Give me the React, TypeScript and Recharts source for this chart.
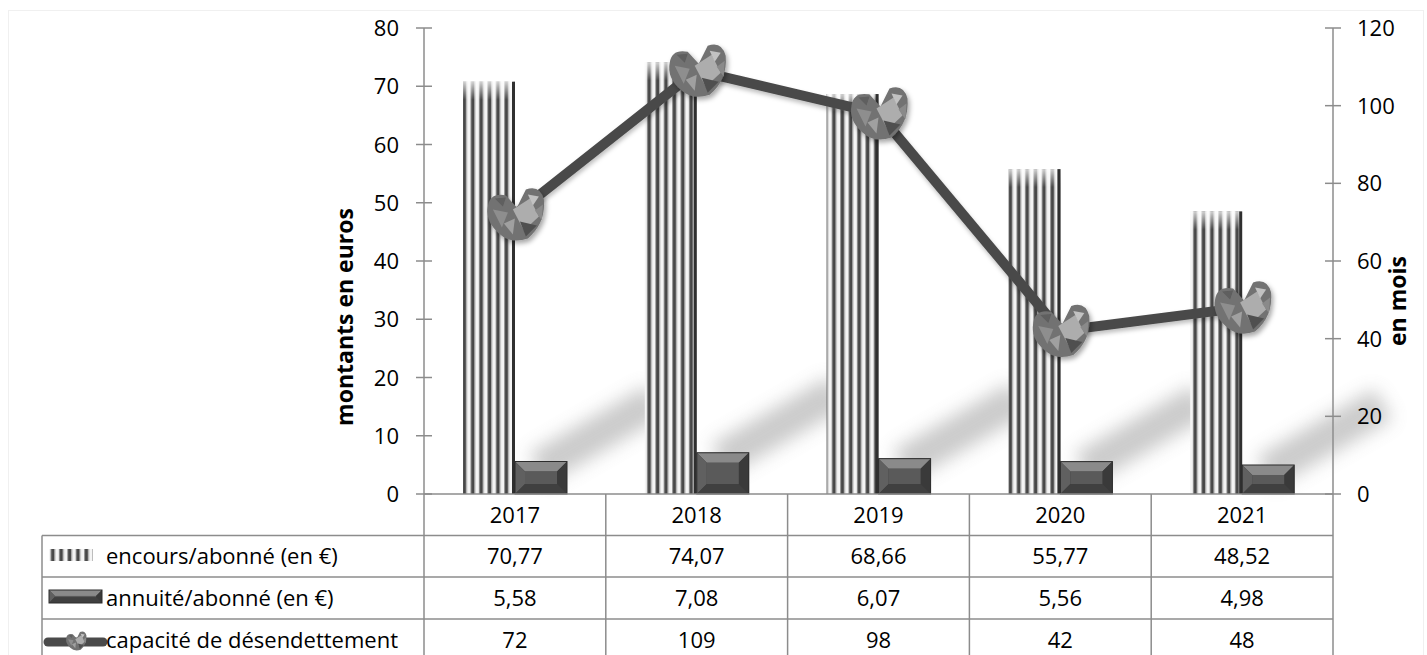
import React from 'react';
import { ComposedChart, Bar, Line, XAxis, YAxis } from 'recharts';

const years = ['2017', '2018', '2019', '2020', '2021'];
const encours = [70.77, 74.07, 68.66, 55.77, 48.52];
const annuite = [5.58, 7.08, 6.07, 5.56, 4.98];
const capacite = [72, 109, 98, 42, 48];
const leftTicks = [0, 10, 20, 30, 40, 50, 60, 70, 80];
const rightTicks = [0, 20, 40, 60, 80, 100, 120];
const seriesNames = ['encours/abonné (en €)', 'annuité/abonné (en €)', 'capacité de désendettement'];

// French decimal comma for the table cells
const fmt = (v: number) => v.toFixed(2).replace('.', ',');

const data = years.map((year, i) => ({
  year,
  encours: encours[i],
  annuite: annuite[i],
  capacite: capacite[i],
}));

const W = 1427;
const H = 655;
const PLOT_L = 424;
const PLOT_R = 1333;
const PLOT_T = 28;
const PLOT_B = 494;
const COL_W = (PLOT_R - PLOT_L) / years.length;
const TABLE_L = 42;
const ROWS = [494, 535.5, 577, 619, 661];
const FONT = '"Open Sans", Lato, sans-serif';
const FS = 22;
const GRID = '#8c8c8c';

const LeftTick = (props: any) => {
  const { y, payload } = props;
  return (
    <g>
      <line x1={PLOT_L - 8} x2={PLOT_L + 8} y1={y} y2={y} stroke={GRID} strokeWidth={1.5} />
      <text x={399} y={y} dy={8} textAnchor="end" fontSize={FS} fontFamily={FONT} fill="#000">
        {payload.value}
      </text>
    </g>
  );
};

const RightTick = (props: any) => {
  const { y, payload } = props;
  return (
    <g>
      <line x1={PLOT_R - 8} x2={PLOT_R + 8} y1={y} y2={y} stroke={GRID} strokeWidth={1.5} />
      <text x={1357} y={y} dy={8} textAnchor="start" fontSize={FS} fontFamily={FONT} fill="#000">
        {payload.value}
      </text>
    </g>
  );
};

// striped bar, also paints the soft shadow of the neighbouring annuity bar
const EncoursShape = (props: any) => {
  const { x, y, width, height, index } = props;
  if (!height) return null;
  const aH = (height * annuite[index]) / encours[index];
  const ax = x + width;
  const ay = y + height - aH;
  return (
    <g>
      <polygon
        points={`${ax + 14},${ay - 8} ${ax + 32},${ay + 22} ${ax + 150},${ay - 46} ${ax + 132},${ay - 76}`}
        fill="#8c8c8c"
        opacity={0.45}
        filter="url(#softBlur)"
      />
      <rect x={x} y={y} width={width} height={height} fill="url(#stripes)" />
      <rect x={x} y={y} width={width} height={18} fill="url(#topFade)" />
      <rect x={x + width - 3} y={y} width={3} height={height} fill="#2f2f2f" />
    </g>
  );
};

const bevel = (x: number, y: number, w: number, h: number) => {
  const b = Math.min(10, h / 2.2);
  return (
    <g>
      <rect x={x} y={y} width={w} height={h} fill="#3c3c3c" />
      <polygon points={`${x},${y} ${x + w},${y} ${x + w - b},${y + b} ${x + b},${y + b}`} fill="#8a8a8a" />
      <polygon points={`${x},${y} ${x + b},${y + b} ${x + b},${y + h - b} ${x},${y + h}`} fill="#606060" />
      <polygon points={`${x + w},${y} ${x + w - b},${y + b} ${x + w - b},${y + h - b} ${x + w},${y + h}`} fill="#3a3a3a" />
      <polygon points={`${x},${y + h} ${x + b},${y + h - b} ${x + w - b},${y + h - b} ${x + w},${y + h}`} fill="#404040" />
      <rect x={x + b} y={y + b} width={Math.max(0, w - 2 * b)} height={Math.max(0, h - 2 * b)} fill="#5a5a5a" />
      <rect x={x} y={y} width={w} height={h} fill="none" stroke="#2c2c2c" strokeWidth={1} />
    </g>
  );
};

const AnnuiteShape = (props: any) => {
  const { x, y, width, height } = props;
  if (!height) return null;
  return bevel(x, y, width, height);
};

const Marker = ({ cx, cy, s = 1 }: { cx: number; cy: number; s?: number }) => (
  <g transform={`translate(${cx},${cy}) scale(${s})`} filter={s === 1 ? 'url(#markShadow)' : undefined}>
    <path
      d="M -27 -8 Q -25 -22 -9 -19 L 2 -7 L 11 -25 Q 25 -30 29 -15 Q 31 9 13 24 Q -4 30 -16 19 Q -30 7 -27 -8 Z"
      fill="#727272"
    />
    <polygon points="-2,-5 15,-16 24,2 9,16" fill="#adadad" />
    <polygon points="-22,-5 -7,-2 -13,13" fill="#8e8e8e" />
    <polygon points="5,7 22,11 11,22" fill="#505050" />
    <polygon points="13,-20 24,-18 18,-9" fill="#c2c2c2" />
    <polygon points="-11,9 0,4 -2,20" fill="#a0a0a0" />
    <polygon points="-20,-16 -9,-17 -12,-8" fill="#5e5e5e" />
    <polygon points="20,-4 28,-10 27,6" fill="#8a8a8a" />
  </g>
);

const LineDot = (props: any) => {
  const { cx, cy } = props;
  if (cx == null || cy == null) return null;
  return <Marker cx={cx} cy={cy} />;
};

export default function App() {
  const rowText = (row: number) => (ROWS[row] + ROWS[row + 1]) / 2 + 8;
  return (
    <div style={{ position: 'absolute', left: 0, top: 0, width: W, height: H, background: '#fff', overflow: 'hidden' }}>
      <svg width={0} height={0} style={{ position: 'absolute' }}>
        <defs>
          <pattern id="stripes" patternUnits="userSpaceOnUse" width={8.4} height={10}>
            <rect width={8.4} height={10} fill="#f4f4f4" />
            <rect x={0} width={1} height={10} fill="#9a9a9a" />
            <rect x={1} width={3} height={10} fill="#474747" />
            <rect x={4} width={1} height={10} fill="#9a9a9a" />
          </pattern>
          <linearGradient id="topFade" x1="0" y1="0" x2="0" y2="1">
            <stop offset="0" stopColor="#ffffff" stopOpacity={0.75} />
            <stop offset="1" stopColor="#ffffff" stopOpacity={0} />
          </linearGradient>
          <filter id="softBlur" x="-50%" y="-50%" width="200%" height="200%">
            <feGaussianBlur stdDeviation="9" />
          </filter>
          <filter id="markShadow" x="-50%" y="-50%" width="200%" height="200%">
            <feDropShadow dx="2" dy="3" stdDeviation="2.5" floodColor="#000" floodOpacity="0.35" />
          </filter>
          <filter id="lineShadow" x="-10%" y="-10%" width="120%" height="120%">
            <feDropShadow dx="1" dy="3" stdDeviation="2" floodColor="#000" floodOpacity="0.25" />
          </filter>
        </defs>
      </svg>

      <div style={{ position: 'absolute', left: 0, top: 0 }}>
        <ComposedChart
          width={W}
          height={H}
          data={data}
          margin={{ top: PLOT_T, right: 0, bottom: H - PLOT_B, left: 0 }}
          barGap={0}
        >
          <XAxis dataKey="year" hide />
          <YAxis
            yAxisId="left"
            orientation="left"
            width={PLOT_L}
            domain={[0, 80]}
            ticks={leftTicks}
            interval={0}
            axisLine={{ stroke: GRID, strokeWidth: 1.5 }}
            tickLine={false}
            tick={<LeftTick />}
          />
          <YAxis
            yAxisId="right"
            orientation="right"
            width={W - PLOT_R}
            domain={[0, 120]}
            ticks={rightTicks}
            interval={0}
            axisLine={{ stroke: GRID, strokeWidth: 1.5 }}
            tickLine={false}
            tick={<RightTick />}
          />
          <Bar yAxisId="left" dataKey="encours" barSize={52} shape={<EncoursShape />} isAnimationActive={false} />
          <Bar yAxisId="left" dataKey="annuite" barSize={52} shape={<AnnuiteShape />} isAnimationActive={false} />
          <Line
            yAxisId="right"
            dataKey="capacite"
            stroke="#4a4a4a"
            strokeWidth={10}
            dot={<LineDot />}
            activeDot={false}
            isAnimationActive={false}
            style={{ filter: 'url(#lineShadow)' }}
          />
        </ComposedChart>
      </div>

      <svg width={W} height={H} style={{ position: 'absolute', left: 0, top: 0, pointerEvents: 'none' }}>
        <rect x={8.5} y={10.5} width={W - 12} height={H} fill="none" stroke="#f0f0f0" />
        <text
          transform={`translate(353,317) rotate(-90)`}
          textAnchor="middle"
          fontSize={23}
          fontWeight="bold"
          fontFamily={FONT}
          fill="#000"
        >
          montants en euros
        </text>
        <text
          transform={`translate(1406,301) rotate(-90)`}
          textAnchor="middle"
          fontSize={23}
          fontWeight="bold"
          fontFamily={FONT}
          fill="#000"
        >
          en mois
        </text>

        {/* data table */}
        <line x1={PLOT_L} x2={PLOT_R} y1={PLOT_B} y2={PLOT_B} stroke={GRID} strokeWidth={1.5} />
        {ROWS.slice(1, 4).map((ry) => (
          <line key={ry} x1={TABLE_L} x2={PLOT_R} y1={ry} y2={ry} stroke={GRID} strokeWidth={1.5} />
        ))}
        <line x1={TABLE_L} x2={TABLE_L} y1={ROWS[1]} y2={H} stroke={GRID} strokeWidth={1.5} />
        {years.map((_, i) => (
          <line
            key={i}
            x1={PLOT_L + i * COL_W}
            x2={PLOT_L + i * COL_W}
            y1={PLOT_B}
            y2={H}
            stroke={GRID}
            strokeWidth={1.5}
          />
        ))}
        <line x1={PLOT_R} x2={PLOT_R} y1={PLOT_B} y2={H} stroke={GRID} strokeWidth={1.5} />

        {years.map((yr, i) => {
          const cx = PLOT_L + (i + 0.5) * COL_W;
          return (
            <g key={yr} fontSize={FS} fontFamily={FONT} fill="#000" textAnchor="middle">
              <text x={cx} y={rowText(0)}>{yr}</text>
              <text x={cx} y={rowText(1)}>{fmt(encours[i])}</text>
              <text x={cx} y={rowText(2)}>{fmt(annuite[i])}</text>
              <text x={cx} y={rowText(3)}>{capacite[i]}</text>
            </g>
          );
        })}

        {/* legend keys */}
        <rect x={49} y={549} width={44} height={12} fill="url(#stripes)" />
        {bevel(49, 590, 53, 13)}
        <line x1={48} x2={103} y1={642} y2={642} stroke="#4a4a4a" strokeWidth={9} strokeLinecap="round" />
        <Marker cx={76} cy={641} s={0.36} />

        <g fontSize={FS} fontFamily={FONT} fill="#000">
          <text x={106} y={rowText(1)}>{seriesNames[0]}</text>
          <text x={106} y={rowText(2)}>{seriesNames[1]}</text>
          <text x={106} y={rowText(3)}>{seriesNames[2]}</text>
        </g>
      </svg>
    </div>
  );
}
